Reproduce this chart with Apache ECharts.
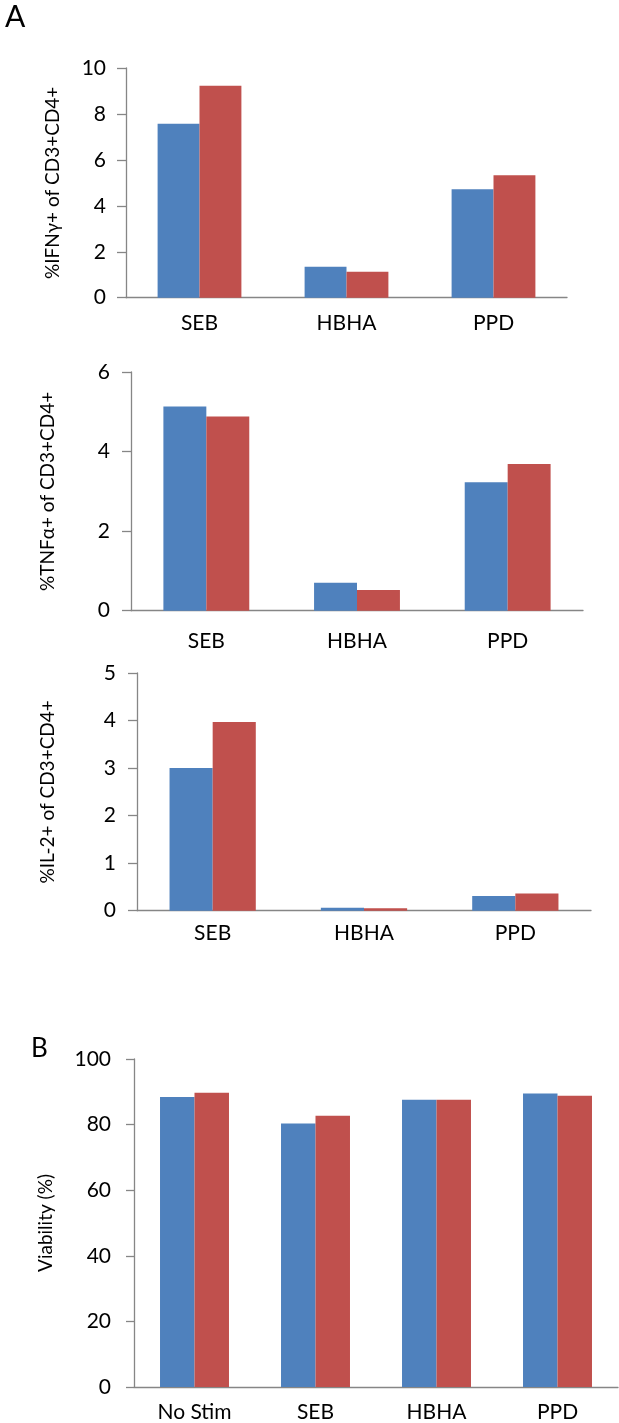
<!DOCTYPE html>
<html>
<head>
<meta charset="utf-8">
<script src="https://cdn.jsdelivr.net/npm/echarts@6/dist/echarts.min.js"></script>
<style>
html,body{margin:0;padding:0;background:#fff;}
#c{width:619px;height:1423px;}
</style>
</head>
<body>
<div id="c"></div>
<script>
// Data
var stimA = ['SEB', 'HBHA', 'PPD'];
var stimB = ['No Stim', 'SEB', 'HBHA', 'PPD'];
var ifngBlue = [7.57, 1.35, 4.72];
var ifngRed  = [9.23, 1.13, 5.33];
var tnfBlue  = [5.13, 0.70, 3.23];
var tnfRed   = [4.88, 0.52, 3.69];
var il2Blue  = [3.00, 0.063, 0.31];
var il2Red   = [3.97, 0.05, 0.36];
var viaBlue  = [88.4, 80.3, 87.6, 89.5];
var viaRed   = [89.7, 82.7, 87.6, 88.8];
var yTitles = ['%IFN\u03b3+ of CD3+CD4+', '%TNF\u03b1+ of CD3+CD4+', '%IL-2+ of CD3+CD4+', 'Viability (%)'];
var yMax = [10, 6, 5, 100];
var yStep = [2, 2, 1, 20];

var BLUE = '#4F81BD', RED = '#C0504D', AXIS = '#868686';
var FONT = 'Lato, "Open Sans", sans-serif';

var grids = [
  {left: 126, top: 68,   width: 441, height: 229.7},
  {left: 131, top: 372,  width: 452, height: 238.7},
  {left: 137, top: 673,  width: 454, height: 237.7},
  {left: 134, top: 1059, width: 484, height: 328.3}
];
var labelMargins = [20, 21, 21, 23];
var catMargins = [15, 20, 12, 15];
var nameGaps = [64, 74, 80, 79];
var tickLens = [9, 9, 9, 8];
var cats = [stimA, stimA, stimA, stimB];
var blues = [ifngBlue, tnfBlue, il2Blue, viaBlue];
var reds = [ifngRed, tnfRed, il2Red, viaRed];

var xAxes = [], yAxes = [], series = [];
for (var i = 0; i < 4; i++) {
  xAxes.push({
    type: 'category', gridIndex: i, data: cats[i],
    axisLine: {lineStyle: {color: AXIS, width: 1.3}},
    axisTick: {show: false},
    axisLabel: {color: '#000', fontFamily: FONT, fontSize: 21, margin: catMargins[i]}
  });
  yAxes.push({
    type: 'value', gridIndex: i, min: 0, max: yMax[i], interval: yStep[i],
    name: yTitles[i], nameLocation: 'middle', nameGap: nameGaps[i],
    nameTextStyle: {color: '#000', fontFamily: FONT, fontSize: 19},
    axisLine: {show: true, lineStyle: {color: AXIS, width: 1.3}},
    axisTick: {show: true, length: tickLens[i], lineStyle: {color: AXIS, width: 1.3}},
    splitLine: {show: false},
    axisLabel: {color: '#000', fontFamily: FONT, fontSize: 21, margin: labelMargins[i]}
  });
  series.push({
    type: 'bar', xAxisIndex: i, yAxisIndex: i, data: blues[i],
    itemStyle: {color: BLUE}, barGap: '0%', barCategoryGap: '43%', silent: true
  });
  series.push({
    type: 'bar', xAxisIndex: i, yAxisIndex: i, data: reds[i],
    itemStyle: {color: RED}, barGap: '0%', barCategoryGap: '43%', silent: true
  });
}

var chart = echarts.init(document.getElementById('c'), null, {renderer: 'canvas'});
chart.setOption({
  animation: false,
  backgroundColor: '#fff',
  textStyle: {fontFamily: FONT},
  title: [
    {text: 'A', left: 0, top: -3, textStyle: {fontFamily: FONT, fontSize: 30, fontWeight: 'normal', color: '#000'}},
    {text: 'B', left: 26, top: 1031, textStyle: {fontFamily: FONT, fontSize: 26, fontWeight: 'normal', color: '#000'}}
  ],
  grid: grids,
  xAxis: xAxes,
  yAxis: yAxes,
  series: series
});
</script>
</body>
</html>
